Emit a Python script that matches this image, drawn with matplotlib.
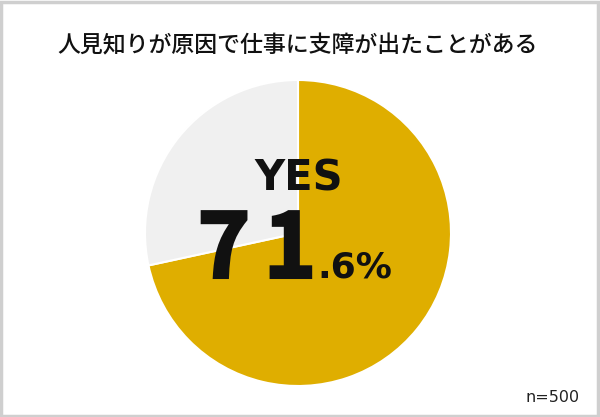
import matplotlib
matplotlib.use("Agg")
import matplotlib.pyplot as plt
from matplotlib.patches import Rectangle
import matplotlib.patheffects as pe

title = "人見知りが原因で仕事に支障が出たことがある"
labels = ["YES", "NO"]
values = [71.6, 28.4]
colors = ["#DFAE00", "#F0F0F0"]
n_label = "n=500"

W, H = 600, 417
fig = plt.figure(figsize=(W / 100, H / 100), dpi=100)
fig.patch.set_facecolor("white")

# border
fig.patches.append(Rectangle((1 / W, 1 / H), 1 - 3 / W, 1 - 3 / H, transform=fig.transFigure,
                             fill=False, edgecolor="#CFCFCF", linewidth=2.5))

cx, cy, r = 298, 233, 153
ax = fig.add_axes([(cx - r) / W, (H - cy - r) / H, 2 * r / W, 2 * r / H])
ax.pie(values, colors=colors, startangle=90, counterclock=False,
       wedgeprops=dict(edgecolor="white", linewidth=1.5))
ax.set_aspect("equal")
ax.set_xlim(-1, 1)
ax.set_ylim(-1, 1)
ax.axis("off")

fam = ["Noto Sans CJK JP", "DejaVu Sans"]
fig.text(298 / W, 1 - 46 / H, title, ha="center", va="center", fontsize=16.5, family=fam,
         fontweight=500, color="#111111")

fig.text(299 / W, 1 - 190 / H, labels[0], ha="center", va="baseline", fontsize=30,
         family=["DejaVu Sans"], fontweight="bold", color="#111111")
main = f"{values[0]:.1f}"
ip, fp = main.split(".")
centers = [224, 290]
heavy = [pe.withStroke(linewidth=2.2, foreground="#111111", joinstyle="miter")]
for ch, xc in zip(ip, centers):
    fig.text(xc / W, 1 - 277.5 / H, ch, ha="center", va="baseline", fontsize=64,
             family=fam, fontweight="bold", color="#111111", path_effects=heavy)
fig.text(317 / W, 1 - 278 / H, "." + fp + "%", ha="left", va="baseline", fontsize=26,
         family=["DejaVu Sans"], fontweight="bold", color="#111111")

fig.text(580 / W, 1 - 397 / H, n_label, ha="right", va="center", fontsize=11.5,
         family=["DejaVu Sans"], color="#222222")

fig.savefig("out.png", dpi=100, facecolor="white")
